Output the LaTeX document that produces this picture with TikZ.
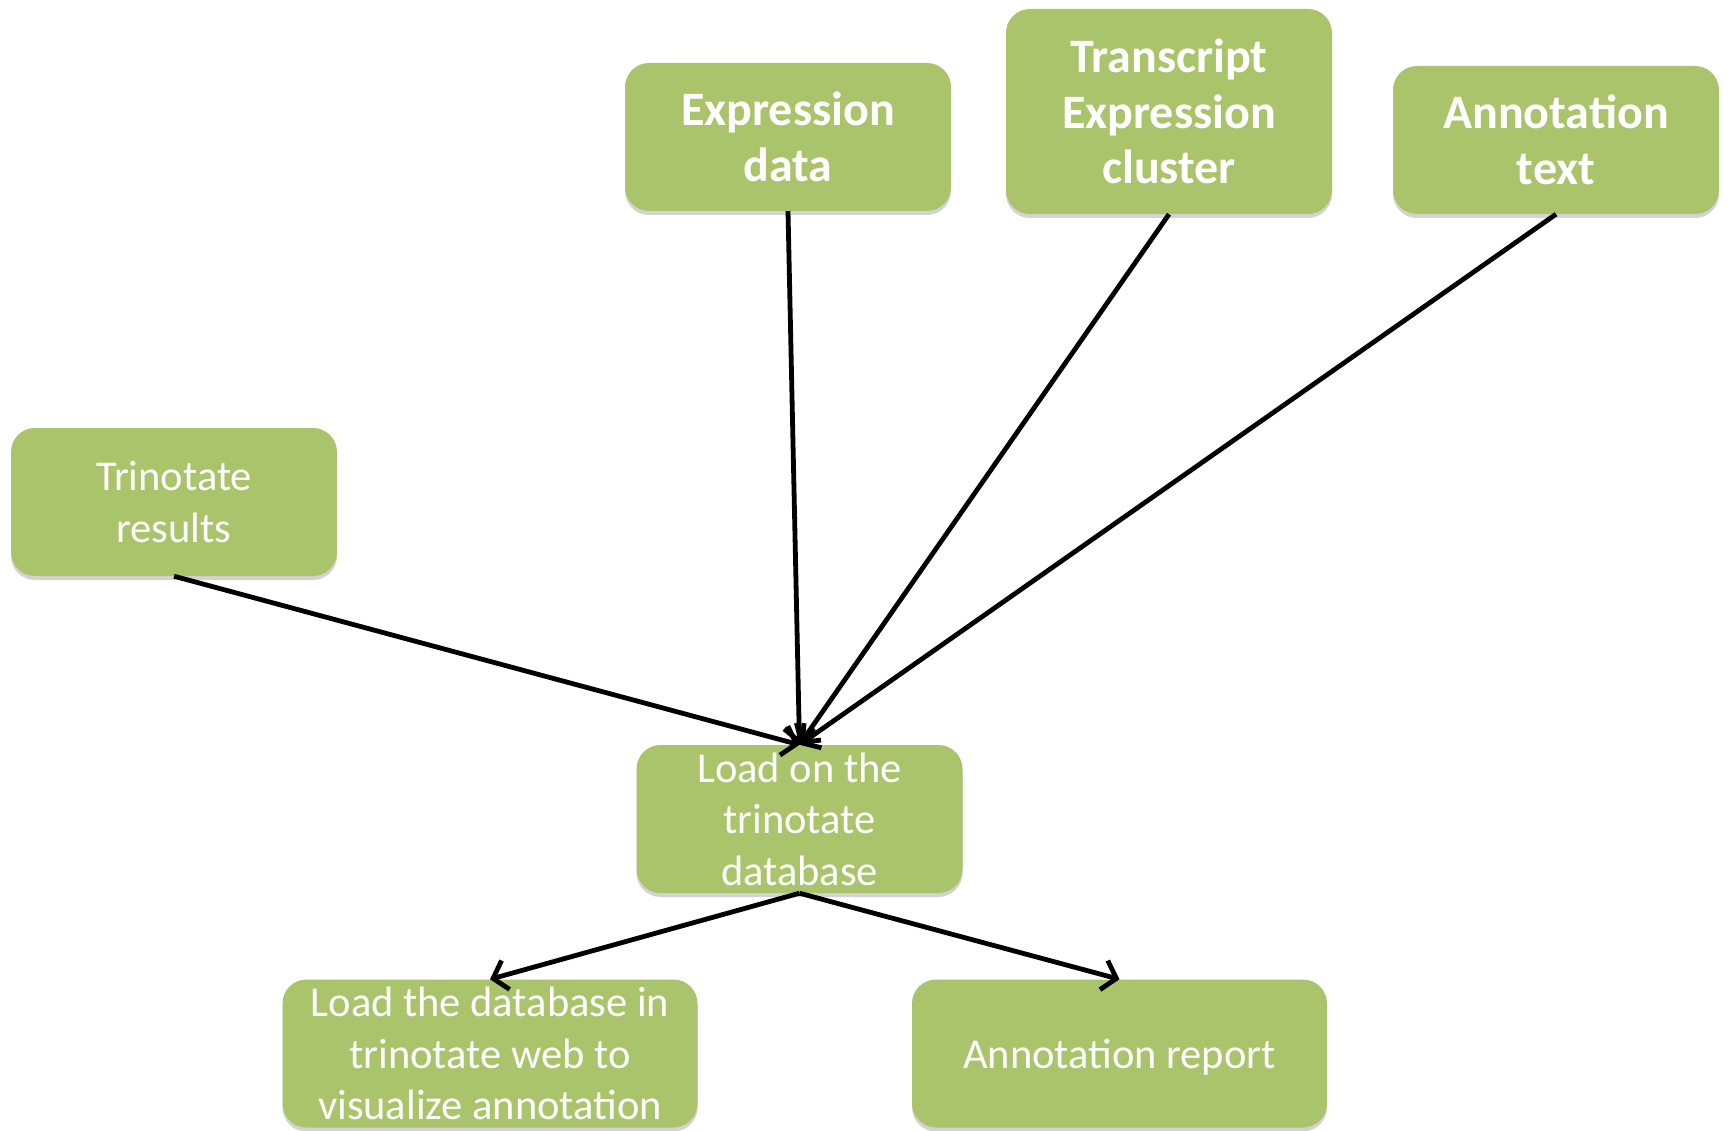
\documentclass[tikz,border=0pt]{standalone}
\usepackage{fontspec}
\setmainfont{Carlito}
\usepackage{xcolor}
\usepackage{tikz}
\usetikzlibrary{arrows.meta,positioning,shadows}
\definecolor{boxgreen}{RGB}{170,196,108}

\begin{document}
\begin{tikzpicture}[x=1pt,y=-1pt,>={Straight Barb[length=13pt,width=30pt]},
  box/.style={fill=boxgreen,rounded corners=24pt,align=center,inner sep=0pt,text=white,minimum width=326pt,minimum height=148pt,drop shadow={shadow xshift=0pt,shadow yshift=-4pt,opacity=0.35},font=\fontsize{42.5}{51.5}\selectfont},
  boldbox/.style={box,font=\fontsize{48}{55.5}\selectfont\bfseries},
  link/.style={->,line width=4.8pt}]
\useasboundingbox (0,0) rectangle (1731,1131);
\node[boldbox](expr) at (788,137){Expression\\data};
\node[boldbox,minimum height=205pt](cluster) at (1169,111.5){Transcript\\Expression\\cluster};
\node[boldbox](annot) at (1556,140){Annotation\\text};
\node[box](results) at (174,502){Trinotate\\results};
\node[box](load) at (799.5,819){Load on the\\trinotate\\database};
\node[box,minimum width=415pt](web) at (490,1053.5){Load the database in\\trinotate web to\\visualize annotation};
\node[box,minimum width=415pt,text depth=0pt](report) at (1119.5,1053.5){Annotation report};
\draw[link](results.south)--(load.north); \draw[link](expr.south)--(load.north); \draw[link](cluster.south)--(load.north); \draw[link](annot.south)--(load.north);
\draw[link](load.south)--(web.north); \draw[link](load.south)--(report.north);
\end{tikzpicture}
\end{document}
